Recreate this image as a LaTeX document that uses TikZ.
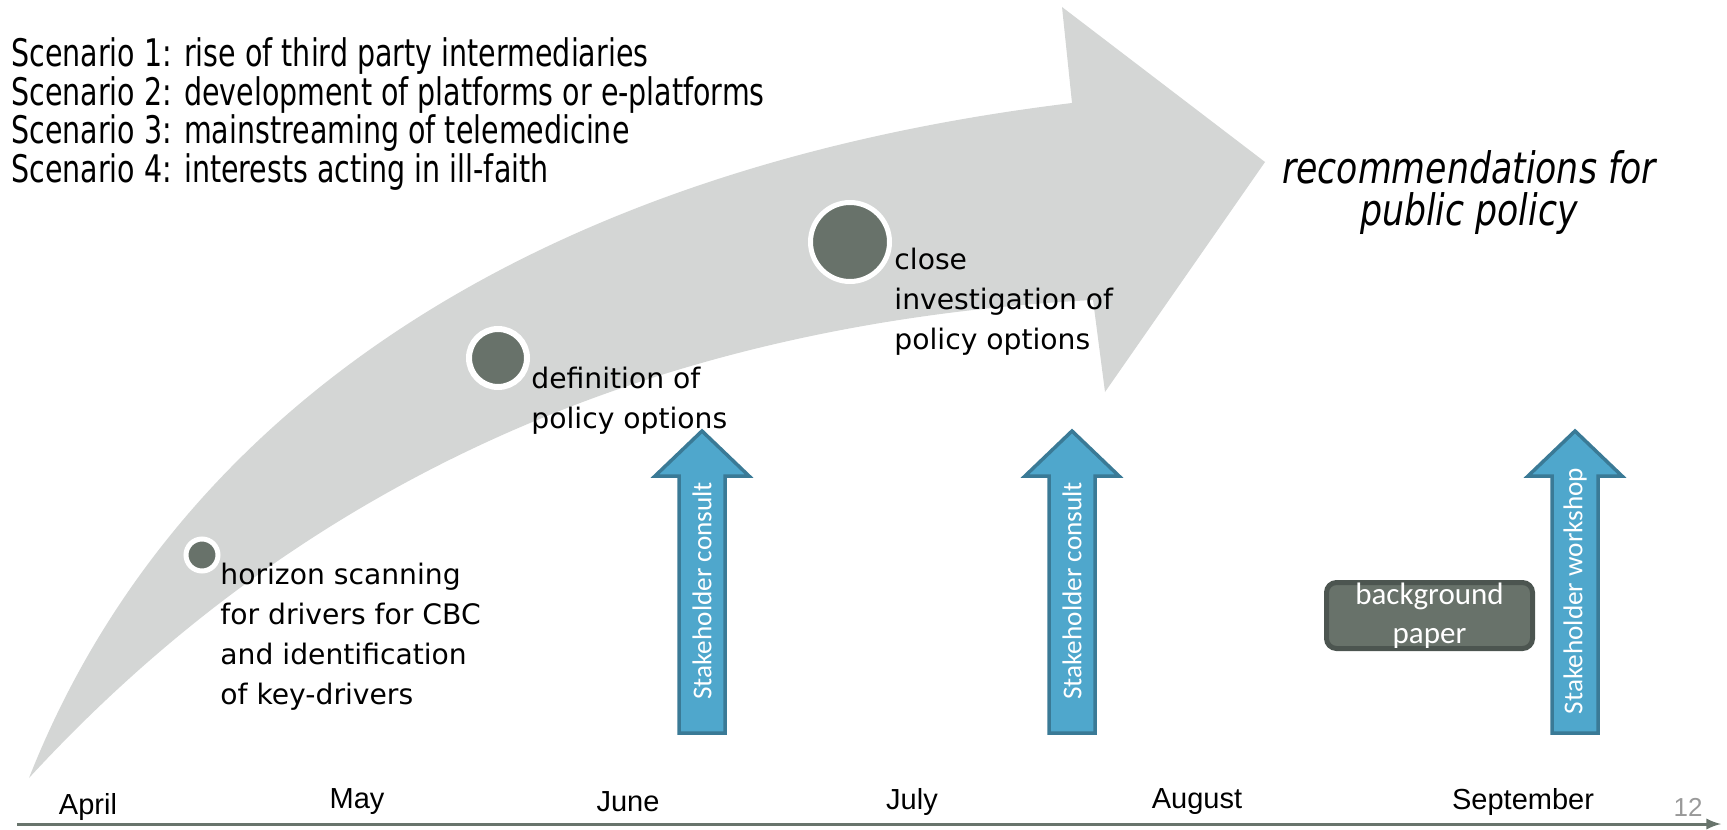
\documentclass[tikz,border=0pt]{standalone}
\usepackage{fontspec}
\setmainfont{DejaVu Sans}
\newfontfamily\narrowfont{DejaVu Sans}[FakeStretch=0.75]
\newfontfamily\recfont{DejaVu Sans}[FakeStretch=0.8]
\newfontfamily\monthfont{Liberation Sans}
\newfontfamily\calfont{Carlito}

\definecolor{band}{RGB}{212,214,213}
\definecolor{stage}{RGB}{104,114,106}
\definecolor{stageedge}{RGB}{76,85,80}
\definecolor{stakefill}{RGB}{79,167,204}
\definecolor{stakeedge}{RGB}{58,122,150}
\definecolor{axisline}{RGB}{104,116,108}

\begin{document}
\begin{tikzpicture}[>=latex, x=0.5pt, y=-0.5pt,
	stage/.style={circle, fill=stage, draw=white, inner sep=0pt},
	steplabel/.style={anchor=west, align=left, inner sep=0pt,
		font=\fontsize{14.1}{20}\selectfont},
	month/.style={inner sep=0pt, font=\monthfont\fontsize{14.5}{17}\selectfont},
	stakearrow/.style={fill=stakefill, draw=stakeedge, line width=1.75pt, line join=miter},
	staketext/.style={rotate=90, text=white, inner sep=0pt,
		font=\calfont\fontsize{13.6}{16}\selectfont}]
	\useasboundingbox (0,0) rectangle (1727,829);

	% the big curved arrow
	\fill[band] (29,778) .. controls (170,420) and (520,170) .. (1072,103)
		-- (1062,7) -- (1265,162) -- (1105,392) -- (1093,300)
		.. controls (720,320) and (340,440) .. (29,778) -- cycle;

	% scenarios and goal
	\node[anchor=west, align=left, inner sep=0pt,
		font=\narrowfont\fontsize{19}{17.6}\selectfont] (scen) at (11,114)
		{Scenario 1: rise of third party intermediaries\\
		Scenario 2: development of platforms or e-platforms\\
		Scenario 3: mainstreaming of telemedicine\\
		Scenario 4: interests acting in ill-faith};
	\node[align=center, inner sep=0pt,
		font=\recfont\itshape\fontsize{21.7}{21}\selectfont] (reco) at (1469,193)
		{recommendations for\\ public policy};

	% stages on the arrow
	\node[stage, minimum size=16pt, line width=2.5pt] (s1) at (202,555) {};
	\node[stage, minimum size=29pt, line width=3pt] (s2) at (498,358) {};
	\node[stage, minimum size=39.5pt, line width=2.5pt] (s3) at (850,242) {};

	\node[steplabel] (l1) at (220,637)
		{horizon scanning\\ for drivers for CBC\\ and identification\\ of key-drivers};
	\node[steplabel] (l2) at (531,401) {definition of\\ policy options};
	\node[steplabel] (l3) at (894,302) {close\\ investigation of\\ policy options};

	% stakeholder input
	\foreach \i/\cx/\txt in {1/702/Stakeholder consult, 2/1072/Stakeholder consult,
		3/1575/Stakeholder workshop} {
		\draw[stakearrow] (\cx-23,733) -- (\cx-23,476) -- (\cx-47,476) -- (\cx,431)
			-- (\cx+47,476) -- (\cx+23,476) -- (\cx+23,733) -- cycle;
		\node[staketext] (stake\i) at (\cx,591) {\txt};
	}

	\node[fill=stage, draw=stageedge, line width=2.5pt, rounded corners=5pt,
		inner ysep=-3pt, minimum width=103pt, minimum height=33pt,
		text=white, align=center,
		font=\calfont\fontsize{15.5}{19.5}\selectfont] (paper) at (1429.5,615.5)
		{background\\ paper};

	% time line
	\node[month] (apr) at (88,807) {April};
	\node[month] (may) at (357,802) {May};
	\node[month] (jun) at (628,802) {June};
	\node[month] (jul) at (912,802) {July};
	\node[month] (aug) at (1197,802) {August};
	\node[month] (sep) at (1523,802) {September};
	\node[inner sep=0pt, text=gray!80, font=\monthfont\fontsize{13}{15}\selectfont]
		(pagenr) at (1688,807) {12};

	\coordinate (axstart) at (17,824);
	\coordinate (axend) at (1721,824);
	\draw[->, axisline, line width=1.5pt] (axstart) -- (axend);
\end{tikzpicture}
\end{document}
